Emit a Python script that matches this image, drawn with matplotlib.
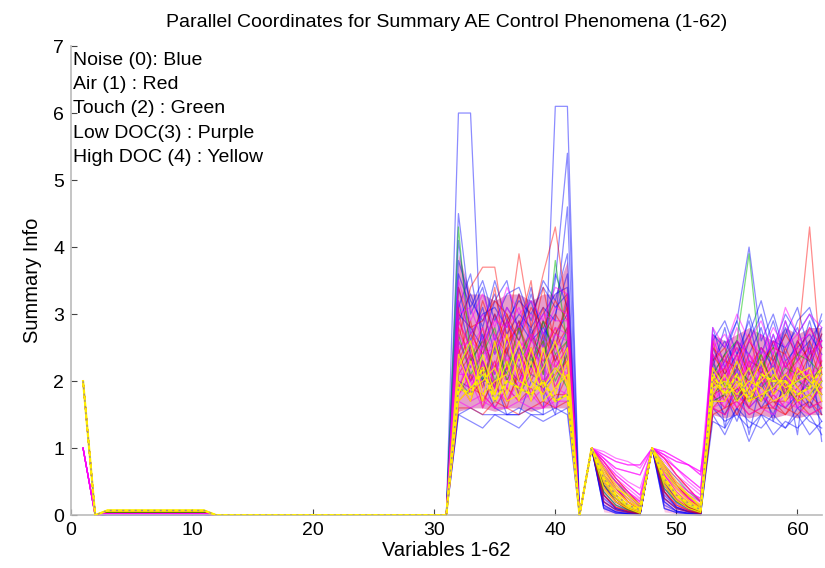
import numpy as np
import matplotlib.pyplot as plt

plt.rcParams['font.family'] = ['Liberation Sans', 'DejaVu Sans']

# variables 1..62
x = np.arange(1, 63)

# value at variable 1 and the small flat level on variables 3-11, per class
first_val = {'blue': [2, 2, 2, 2, 1, 2, 2, 2, 2, 2],
             'red': [2, 2, 2, 1, 2, 2, 2, 2, 2, 2],
             'green': [2, 2, 2, 2],
             'magenta': [1, 2, 1, 2, 1, 2, 1, 2, 1, 2],
             'yellow': [2, 2, 2, 2, 2, 2]}
low_level = {'blue': 0.01, 'red': 0.04, 'green': 0.03, 'magenta': 0.02, 'yellow': 0.07}

# variables 32-41
blue_a = [[6.0, 6.0, 2.0, 1.6, 1.5, 1.5, 1.6, 1.5, 1.6, 1.5],
          [1.5, 1.6, 1.5, 1.5, 1.5, 1.6, 1.5, 1.5, 6.1, 6.1],
          [4.5, 3.0, 3.4, 2.6, 3.1, 2.8, 3.2, 2.5, 3.5, 5.4],
          [3.8, 3.2, 2.9, 3.3, 2.7, 3.0, 2.8, 3.1, 2.9, 4.6],
          [3.4, 2.6, 3.1, 2.4, 2.9, 2.6, 3.3, 2.7, 3.0, 3.6],
          [3.0, 2.8, 2.5, 3.0, 2.4, 2.9, 2.6, 2.8, 2.5, 3.2],
          [2.6, 2.2, 2.7, 2.1, 2.6, 2.3, 2.8, 2.2, 2.7, 3.0],
          [1.5, 1.4, 1.3, 1.5, 1.4, 1.3, 1.5, 1.4, 1.5, 1.6],
          [3.2, 2.4, 2.0, 2.6, 2.1, 2.5, 2.2, 2.9, 2.3, 2.8],
          [2.9, 3.3, 2.8, 3.5, 2.9, 3.2, 3.0, 3.4, 3.1, 3.3],
          [3.6, 3.1, 3.5, 2.9, 3.3, 3.4, 2.9, 3.5, 3.2, 3.9],
          [2.4, 2.0, 2.3, 1.9, 2.2, 2.0, 2.4, 1.9, 2.1, 2.5],
          [4.1, 2.7, 3.0, 3.1, 2.8, 3.3, 2.7, 3.0, 3.3, 3.4],
          [2.0, 1.9, 2.0, 2.0, 1.5, 1.5, 2.0, 1.9, 1.5, 2.6],
          [3.1, 3.6, 2.6, 3.2, 3.5, 2.7, 3.4, 2.6, 3.6, 3.1]]
red_a = [[2.6, 3.4, 3.7, 3.7, 2.6, 3.9, 2.8, 3.6, 4.3, 3.0],
         [2.2, 2.5, 1.9, 2.6, 2.0, 2.4, 2.1, 2.7, 2.3, 2.6],
         [1.8, 2.1, 1.7, 2.0, 1.6, 2.2, 1.8, 2.0, 1.7, 2.1],
         [2.8, 2.3, 2.6, 2.2, 2.9, 2.4, 2.7, 2.3, 2.5, 2.8],
         [2.0, 1.7, 2.3, 1.8, 2.2, 1.9, 2.4, 1.8, 2.1, 2.3],
         [1.6, 1.6, 1.5, 1.7, 1.6, 1.5, 1.6, 1.7, 1.6, 1.7],
         [3.1, 2.0, 2.5, 3.4, 2.2, 2.8, 3.5, 2.1, 3.0, 2.7],
         [2.4, 2.9, 2.1, 2.5, 3.0, 2.0, 2.6, 3.1, 2.2, 2.5],
         [1.9, 2.3, 2.8, 1.9, 2.5, 2.9, 2.0, 2.4, 2.8, 2.2],
         [2.5, 1.8, 2.0, 2.3, 1.7, 2.1, 2.5, 1.9, 2.4, 2.0],
         [2.3, 2.7, 2.4, 3.0, 2.6, 2.8, 2.4, 2.9, 2.7, 3.1],
         [1.7, 1.9, 1.8, 1.6, 1.9, 1.7, 1.9, 1.6, 1.8, 1.8],
         [2.9, 2.5, 3.2, 2.7, 2.4, 3.3, 2.6, 3.4, 2.5, 3.3],
         [2.1, 2.4, 1.6, 2.2, 2.5, 1.8, 2.2, 2.6, 1.9, 2.4],
         [3.4, 2.8, 2.9, 3.2, 3.0, 2.6, 3.1, 2.8, 3.2, 2.9]]
green_a = [[4.3, 2.3, 2.6, 2.0, 2.4, 2.2, 2.7, 2.1, 3.8, 2.5],
           [2.2, 2.6, 2.0, 2.5, 2.1, 2.8, 2.3, 2.6, 2.0, 2.4],
           [2.0, 1.8, 2.2, 1.9, 2.3, 1.8, 2.1, 2.0, 2.2, 1.9],
           [2.7, 2.1, 2.4, 2.8, 2.0, 2.5, 2.2, 2.9, 2.4, 2.6]]
magenta_a = [[2.0, 1.7, 1.8, 1.6, 1.9, 1.7, 1.8, 1.6, 1.9, 1.8],
             [1.7, 1.6, 1.7, 1.6, 1.6, 1.7, 1.6, 1.6, 1.7, 1.7],
             [2.3, 2.0, 2.2, 1.9, 2.4, 2.0, 2.2, 1.9, 2.3, 2.1],
             [2.6, 2.2, 2.5, 2.1, 2.6, 2.3, 2.5, 2.2, 2.6, 2.4],
             [2.9, 2.5, 2.8, 2.4, 2.9, 2.5, 2.7, 2.5, 2.8, 2.7],
             [3.2, 2.7, 3.0, 2.6, 3.1, 2.8, 3.0, 2.7, 3.1, 3.0],
             [1.9, 2.4, 1.8, 2.3, 1.9, 2.5, 1.8, 2.2, 1.9, 2.3],
             [2.4, 1.8, 2.6, 1.9, 2.2, 1.8, 2.7, 2.0, 2.5, 2.0],
             [3.5, 2.9, 3.3, 2.8, 3.4, 3.0, 3.2, 2.9, 3.4, 3.3],
             [2.1, 2.1, 2.0, 2.2, 2.0, 2.1, 2.1, 2.0, 2.1, 2.2],
             [2.2, 1.9, 2.3, 2.0, 2.1, 1.9, 2.3, 2.0, 2.2, 2.0],
             [2.7, 2.4, 2.2, 2.7, 2.3, 2.6, 2.4, 2.3, 2.7, 2.6],
             [1.8, 2.0, 1.6, 1.9, 1.7, 2.0, 1.7, 1.9, 1.6, 1.9],
             [3.0, 3.1, 2.6, 2.9, 2.8, 3.1, 2.6, 3.0, 2.9, 2.9],
             [2.5, 2.6, 2.4, 2.5, 2.7, 2.2, 2.6, 2.4, 2.2, 2.5]]
yellow_a = [[2.0, 1.7, 2.4, 1.8, 2.3, 1.7, 2.5, 1.9, 2.2, 2.0],
            [1.8, 2.3, 1.7, 2.6, 1.8, 2.4, 1.7, 2.5, 1.8, 2.3],
            [2.4, 1.9, 2.1, 1.8, 2.7, 2.0, 1.9, 2.2, 2.6, 1.9],
            [1.7, 1.9, 2.0, 2.2, 1.7, 1.8, 2.3, 1.7, 1.9, 2.1],
            [2.2, 2.6, 1.8, 2.0, 2.1, 2.6, 2.0, 1.8, 2.1, 2.5],
            [1.9, 1.8, 2.2, 1.7, 2.0, 1.9, 1.8, 2.0, 1.7, 1.8]]

# variables 44-47 (43 is 1 for every line)
blue_b = [[0.15, 0.05, 0.02, 0.0], [0.3, 0.1, 0.05, 0.02], [0.1, 0.03, 0.02, 0.01],
          [0.45, 0.2, 0.08, 0.03], [0.2, 0.08, 0.04, 0.02], [0.6, 0.3, 0.15, 0.05],
          [0.25, 0.1, 0.05, 0.02], [0.12, 0.05, 0.03, 0.02], [0.35, 0.15, 0.06, 0.03],
          [0.5, 0.25, 0.1, 0.04]]
red_b = [[0.5, 0.25, 0.1, 0.05], [0.7, 0.4, 0.2, 0.08], [0.3, 0.12, 0.06, 0.03],
         [0.8, 0.55, 0.35, 0.15], [0.4, 0.2, 0.1, 0.04], [0.6, 0.35, 0.2, 0.1],
         [0.2, 0.08, 0.04, 0.02], [0.75, 0.5, 0.3, 0.12], [0.45, 0.2, 0.08, 0.03],
         [0.55, 0.3, 0.15, 0.06]]
green_b = [[0.6, 0.4, 0.25, 0.1], [0.45, 0.25, 0.12, 0.05], [0.7, 0.5, 0.3, 0.15],
           [0.35, 0.15, 0.08, 0.03]]
magenta_b = [[0.85, 0.7, 0.65, 0.6], [0.9, 0.8, 0.75, 0.75], [0.7, 0.5, 0.35, 0.2],
             [0.8, 0.6, 0.45, 0.3], [0.6, 0.4, 0.25, 0.1], [0.95, 0.85, 0.8, 0.7],
             [0.5, 0.3, 0.15, 0.05], [0.75, 0.55, 0.4, 0.25], [0.65, 0.45, 0.3, 0.15],
             [0.85, 0.65, 0.5, 0.4]]
yellow_b = [[0.6, 0.35, 0.2, 0.1], [0.5, 0.25, 0.12, 0.05], [0.7, 0.45, 0.25, 0.1],
            [0.4, 0.2, 0.1, 0.03], [0.65, 0.4, 0.3, 0.15], [0.55, 0.3, 0.15, 0.08]]

# variables 49-52 (48 is 1 for every line)
blue_c = [[0.2, 0.06, 0.03, 0.01], [0.35, 0.12, 0.05, 0.02], [0.1, 0.04, 0.02, 0.0],
          [0.5, 0.22, 0.1, 0.04], [0.25, 0.1, 0.05, 0.02], [0.55, 0.3, 0.12, 0.05],
          [0.3, 0.12, 0.06, 0.03], [0.15, 0.06, 0.03, 0.02], [0.4, 0.18, 0.08, 0.03],
          [0.45, 0.2, 0.1, 0.05]]
red_c = [[0.55, 0.3, 0.12, 0.05], [0.75, 0.45, 0.25, 0.1], [0.35, 0.15, 0.07, 0.03],
         [0.85, 0.6, 0.4, 0.2], [0.45, 0.22, 0.1, 0.05], [0.65, 0.4, 0.22, 0.1],
         [0.25, 0.1, 0.05, 0.02], [0.7, 0.45, 0.28, 0.12], [0.5, 0.25, 0.1, 0.04],
         [0.6, 0.35, 0.18, 0.08]]
green_c = [[0.65, 0.45, 0.3, 0.12], [0.5, 0.3, 0.15, 0.06], [0.75, 0.55, 0.35, 0.2],
           [0.4, 0.2, 0.1, 0.04]]
magenta_c = [[0.9, 0.8, 0.75, 0.65], [0.85, 0.7, 0.55, 0.4], [0.7, 0.5, 0.35, 0.25],
             [0.95, 0.85, 0.75, 0.6], [0.6, 0.4, 0.25, 0.15], [0.8, 0.6, 0.45, 0.3],
             [0.5, 0.3, 0.2, 0.1], [0.75, 0.55, 0.4, 0.2], [0.65, 0.45, 0.3, 0.2],
             [0.9, 0.7, 0.5, 0.35]]
yellow_c = [[0.65, 0.4, 0.22, 0.1], [0.5, 0.28, 0.14, 0.06], [0.75, 0.5, 0.3, 0.12],
            [0.45, 0.22, 0.1, 0.04], [0.7, 0.45, 0.3, 0.15], [0.55, 0.3, 0.18, 0.08]]

# variables 53-62
blue_d = [[2.7, 2.5, 2.9, 4.0, 2.6, 3.0, 2.4, 2.9, 3.1, 2.5],
          [2.4, 1.3, 2.2, 1.2, 2.0, 1.4, 2.1, 1.2, 2.6, 1.1],
          [1.6, 1.4, 1.5, 1.3, 1.5, 1.4, 1.3, 1.5, 1.2, 1.4],
          [2.2, 2.8, 2.0, 2.6, 3.0, 2.3, 2.7, 3.1, 2.4, 3.0],
          [2.0, 2.3, 2.6, 2.1, 2.5, 2.2, 2.8, 2.3, 2.9, 2.2],
          [1.8, 1.5, 1.9, 1.6, 1.8, 1.5, 2.0, 1.6, 1.7, 1.4],
          [2.5, 2.1, 2.4, 2.9, 2.1, 2.7, 2.2, 2.6, 2.3, 2.8],
          [1.4, 1.3, 1.6, 1.4, 1.3, 1.5, 1.3, 1.6, 1.4, 1.3],
          [2.3, 2.6, 2.2, 3.0, 2.4, 2.9, 2.3, 2.5, 2.7, 2.4],
          [1.9, 2.1, 1.7, 2.0, 1.6, 1.9, 1.8, 2.1, 1.6, 2.0],
          [2.6, 2.9, 2.4, 2.7, 3.2, 2.5, 3.0, 2.7, 3.0, 2.6],
          [1.5, 1.2, 1.6, 1.1, 1.5, 1.2, 1.4, 1.3, 1.5, 1.2],
          [2.1, 2.4, 2.9, 2.3, 2.2, 2.6, 2.5, 2.8, 2.2, 2.7],
          [1.7, 1.8, 1.4, 1.9, 2.1, 1.7, 1.6, 1.8, 2.0, 1.5],
          [2.8, 2.2, 2.6, 2.4, 2.8, 2.1, 2.9, 2.4, 2.6, 2.9]]
red_d = [[2.0, 1.8, 2.2, 2.0, 1.9, 2.3, 1.8, 2.5, 4.3, 2.1],
         [1.8, 1.6, 1.9, 1.7, 1.8, 1.6, 1.9, 1.7, 1.8, 1.6],
         [2.2, 2.0, 2.4, 1.9, 2.3, 2.0, 2.5, 2.1, 2.6, 2.2],
         [1.6, 1.8, 1.5, 1.9, 1.6, 1.7, 1.5, 1.8, 1.6, 1.7],
         [2.4, 2.1, 2.6, 2.2, 2.5, 2.3, 2.7, 2.4, 2.8, 2.5],
         [1.7, 2.2, 1.8, 2.3, 1.7, 2.1, 1.8, 2.2, 1.9, 2.3],
         [2.1, 1.7, 2.0, 1.6, 2.1, 1.8, 2.0, 1.7, 2.2, 1.8],
         [1.9, 2.4, 1.7, 2.1, 2.2, 1.8, 2.3, 1.9, 2.1, 1.9],
         [1.5, 1.6, 1.7, 1.5, 1.6, 1.6, 1.5, 1.7, 1.5, 1.6],
         [2.6, 1.9, 2.3, 2.7, 2.0, 2.4, 1.9, 2.6, 2.3, 2.7],
         [2.3, 2.5, 2.0, 2.4, 2.1, 2.6, 2.2, 2.4, 2.0, 2.5],
         [1.6, 1.5, 1.8, 1.6, 1.5, 1.8, 1.6, 1.5, 1.7, 1.5],
         [2.0, 2.2, 2.5, 2.1, 2.4, 1.9, 2.1, 2.3, 2.5, 2.0],
         [2.5, 2.3, 2.2, 2.6, 2.3, 2.5, 2.4, 2.0, 2.4, 2.6],
         [1.8, 1.9, 1.6, 1.8, 2.0, 1.7, 1.7, 1.9, 1.7, 1.9]]
green_d = [[2.1, 2.4, 2.6, 3.9, 2.2, 2.5, 2.0, 2.4, 2.3, 2.1],
           [1.8, 2.0, 1.7, 2.2, 1.9, 2.1, 1.8, 2.0, 1.9, 1.8],
           [2.3, 1.9, 2.2, 2.0, 2.4, 1.9, 2.2, 2.1, 2.0, 2.2],
           [1.7, 1.8, 2.0, 1.8, 1.7, 2.0, 1.9, 1.7, 1.8, 2.0]]
magenta_d = [[1.9, 1.7, 2.0, 1.8, 1.9, 1.7, 2.0, 1.8, 1.9, 1.8],
             [2.3, 2.0, 2.4, 2.1, 2.5, 2.0, 2.4, 2.1, 2.5, 2.2],
             [1.6, 1.5, 1.7, 1.5, 1.6, 1.5, 1.7, 1.6, 1.5, 1.6],
             [2.6, 2.3, 2.8, 2.2, 2.7, 2.4, 2.9, 2.3, 2.8, 2.5],
             [2.0, 2.3, 1.8, 2.4, 2.0, 2.2, 1.8, 2.3, 2.0, 2.4],
             [1.7, 1.9, 1.6, 2.0, 1.7, 1.8, 1.6, 1.9, 1.7, 1.9],
             [2.2, 1.8, 2.1, 1.7, 2.2, 1.9, 2.1, 1.8, 2.2, 1.9],
             [2.8, 2.5, 3.0, 2.6, 2.9, 2.4, 3.1, 2.7, 3.0, 2.8],
             [1.8, 2.1, 1.9, 2.2, 1.8, 2.0, 1.9, 2.1, 1.8, 2.1],
             [2.4, 2.2, 2.5, 2.0, 2.3, 2.6, 2.2, 2.5, 2.3, 2.6],
             [2.1, 2.2, 2.0, 2.3, 1.9, 2.3, 2.0, 2.2, 2.1, 2.2],
             [1.6, 1.7, 1.8, 1.6, 1.8, 1.6, 1.8, 1.7, 1.6, 1.7],
             [2.5, 2.7, 2.3, 2.6, 2.4, 2.8, 2.5, 2.7, 2.4, 2.6],
             [1.9, 1.6, 2.2, 1.9, 2.1, 1.8, 2.3, 1.6, 2.1, 2.0],
             [2.7, 2.0, 2.6, 2.4, 2.2, 2.7, 2.0, 2.6, 2.7, 2.3]]
yellow_d = [[2.0, 1.8, 1.9, 2.2, 1.7, 2.1, 1.9, 2.0, 2.1, 1.9],
            [1.8, 2.1, 1.7, 1.9, 2.3, 1.8, 2.0, 1.7, 1.8, 2.1],
            [2.2, 1.9, 2.3, 1.8, 2.0, 2.2, 1.7, 2.2, 2.0, 1.8],
            [1.7, 1.7, 2.0, 1.7, 1.8, 1.9, 2.1, 1.9, 1.7, 2.0],
            [1.9, 2.0, 1.8, 2.0, 1.9, 1.7, 1.8, 2.1, 2.2, 1.7],
            [2.1, 1.8, 2.1, 1.7, 2.1, 2.0, 2.0, 1.8, 1.9, 2.2]]

# dense core of the bundle (where lines pile up), read as envelopes
core_a_x = [31, 32, 33, 34, 35, 36, 37, 38, 39, 40, 41, 42]
core_a_lo = [0, 1.55, 1.6, 1.6, 1.55, 1.6, 1.6, 1.55, 1.6, 1.6, 1.6, 0]
core_a_hi = [0, 3.9, 3.3, 3.3, 3.2, 3.3, 3.3, 3.2, 3.3, 3.3, 3.8, 0]
core_bc_x = [42, 43, 44, 45, 46, 47, 48, 49, 50, 51, 52]
core_bc_lo = [0, 1, 0.05, 0.02, 0.01, 0.0, 1, 0.05, 0.02, 0.01, 0.0]
core_bc_hi = [0, 1, 0.75, 0.5, 0.35, 0.25, 1, 0.75, 0.5, 0.35, 0.25]
core_d_x = [52, 53, 54, 55, 56, 57, 58, 59, 60, 61, 62]
core_d_lo = [0.1, 1.5, 1.45, 1.5, 1.45, 1.5, 1.45, 1.5, 1.45, 1.5, 1.5]
core_d_hi = [0.3, 2.7, 2.6, 2.7, 2.8, 2.7, 2.6, 2.8, 2.7, 2.8, 2.8]

classes = [
    ('blue', '#0000ff', 0.45, blue_a, blue_b, blue_c, blue_d),
    ('red', '#ff0000', 0.45, red_a, red_b, red_c, red_d),
    ('green', '#00c000', 0.5, green_a, green_b, green_c, green_d),
    ('magenta', '#ff00ff', 0.5, magenta_a, magenta_b, magenta_c, magenta_d),
    ('yellow', '#ffee00', 0.85, yellow_a, yellow_b, yellow_c, yellow_d),
]


def build_line(v1, low, a, b, c, d):
    return ([v1, 0] + [low] * 9 + [0] * 20 + a + [0, 1] + b + [1] + c + d)


fig = plt.figure(figsize=(8.25, 5.68), dpi=100)
ax = fig.add_axes([0.086, 0.093, 0.91, 0.826])

ax.fill_between(core_a_x, core_a_lo, core_a_hi, color='#c8288c', alpha=0.45, lw=0, zorder=1)
ax.fill_between(core_bc_x, core_bc_lo, core_bc_hi, color='#f040a8', alpha=0.3, lw=0, zorder=1)
ax.fill_between(core_d_x, core_d_lo, core_d_hi, color='#c8288c', alpha=0.45, lw=0, zorder=1)

for name, col, alpha, A, B, C, D in classes:
    for i in range(len(A)):
        fv = first_val[name][i % len(first_val[name])]
        y = build_line(fv, low_level[name], A[i], B[i % len(B)], C[i % len(C)], D[i])
        ax.plot(x, y, color=col, alpha=alpha, lw=0.9, clip_on=False, zorder=2)

# last yellow line drawn on top with a dashed overlay
y = build_line(2, low_level['yellow'], yellow_a[5], yellow_b[5], yellow_c[5], yellow_d[5])
ax.plot(x, y, color='#ffee00', lw=1.6, zorder=3)
ax.plot(x, y, color='#8060c0', lw=1.0, ls=(0, (1.5, 3)), alpha=0.7, zorder=3)

ax.set_xlim(0, 62)
ax.set_ylim(0, 7)
ax.set_xticks([0, 10, 20, 30, 40, 50, 60])
ax.set_yticks(range(8))
ax.tick_params(direction='in', length=4, width=0.8, color='#444444', labelsize=14, pad=5)
for s in ['top', 'right']:
    ax.spines[s].set_visible(False)
for s in ['left', 'bottom']:
    ax.spines[s].set_color('#bbbbbb')
    ax.spines[s].set_linewidth(1.2)

ax.set_title('Parallel Coordinates for Summary AE Control Phenomena (1-62)', fontsize=14, pad=14)
ax.set_xlabel('Variables 1-62', fontsize=14.5, labelpad=1)
ax.set_ylabel('Summary Info', fontsize=14.5, labelpad=8)

legend_lines = ['Noise (0): Blue', 'Air (1) : Red', 'Touch (2) : Green',
                'Low DOC(3) : Purple', 'High DOC (4) : Yellow']
for k, t in enumerate(legend_lines):
    ax.text(0.003, 0.970 - k * 0.052, t, transform=ax.transAxes, fontsize=14,
            va='center', ha='left')

fig.savefig('out.png', dpi=100)
